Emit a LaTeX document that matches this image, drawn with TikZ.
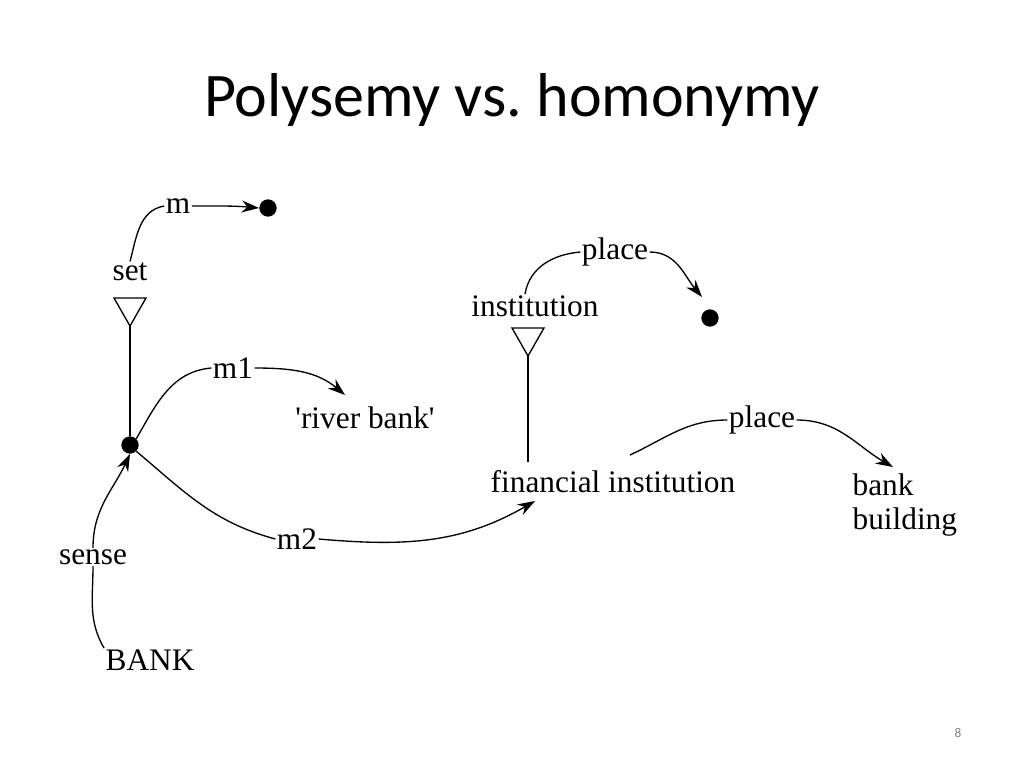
\documentclass[tikz,border=0pt]{standalone}
\usepackage{fontspec}
\setmainfont{Liberation Serif}
\newfontfamily\plainserif{Liberation Serif}
\newfontfamily\titlefont{Carlito}
\usetikzlibrary{arrows.meta}
\frenchspacing
\begin{document}
\begin{tikzpicture}[x=0.75pt,y=-0.75pt,
  lbl/.style={font=\fontsize{23.5}{26}\selectfont,inner sep=1pt},
  con/.style={line width=1pt},
  arr/.style={line width=1pt,-{Stealth[length=13pt,width=9pt]}},
  dotn/.style={circle,fill=black,inner sep=0pt,minimum size=13pt},
  tri/.style={line width=1pt}]
\useasboundingbox (0,0) rectangle (1024,768);
\node[font=\titlefont\fontsize{46.5}{50}\selectfont] (title) at (512,100) {Polysemy vs. homonymy};
\node[font=\titlefont\fontsize{10}{12}\selectfont,text=gray] (pg) at (958,733) {8};
% left part
\node[lbl] (set) at (130,272) {set};
\node[lbl] (m) at (178,206) {m};
\node[dotn] (d0) at (268,208) {};
\draw[con] (set.north) to[out=75,in=190] (m.west);
\draw[arr] (m.east) to[out=0,in=175] (d0.west);
\draw[tri] (114,298) -- (146,298) -- (130,326) -- cycle;
\node[dotn] (d1) at (130,445) {};
\draw[con] (130,326) -- (d1.north);
\node[lbl] (m1) at (233,368) {m1};
\node[lbl,font=\plainserif\fontsize{23.5}{26}\selectfont] (rb) at (365,418) {'river bank'};
\coordinate (rbt) at (345,395);
\draw[con] (d1.north east) to[out=60,in=185] (m1.west);
\draw[arr] (m1.east) to[out=0,in=140] (rbt);
\node[lbl] (m2) at (297,539) {m2};
\node[lbl] (fin) at (613,482) {financial institution};
\coordinate (fint) at (535,501);
\draw[con] (d1.south east) to[out=-40,in=165] (m2.west);
\draw[arr] (m2.east) to[out=-5,in=-150] (fint);
\node[lbl] (sense) at (93,557) {sense};
\node[lbl] (bank) at (150,660) {BANK};
\draw[con] (bank.north west) to[out=120,in=-90] (sense.south);
\draw[arr] (sense.north) to[out=90,in=-115] (d1.south);
% right part
\node[lbl] (inst) at (535,306) {institution};
\node[lbl] (pl1) at (615,252) {place};
\node[dotn] (d2) at (710,318) {};
\coordinate (d2t) at (702,297);
\draw[con] (inst.north) ++(-10,0) to[out=80,in=185] (pl1.west);
\draw[arr] (pl1.east) to[out=0,in=130] (d2t);
\draw[tri] (512,328) -- (544,328) -- (528,356) -- cycle;
\draw[con] (528,356) -- (528,462);
\node[lbl] (pl2) at (762,420) {place};
\node[lbl,align=left,anchor=west] (bb) at (851,505) {bank\\building};
\coordinate (fs) at (630,455);
\coordinate (bbt) at (893,467);
\draw[con] (fs) to[out=25,in=180] (pl2.west);
\draw[arr] (pl2.east) to[out=0,in=150] (bbt);
\end{tikzpicture}
\end{document}
